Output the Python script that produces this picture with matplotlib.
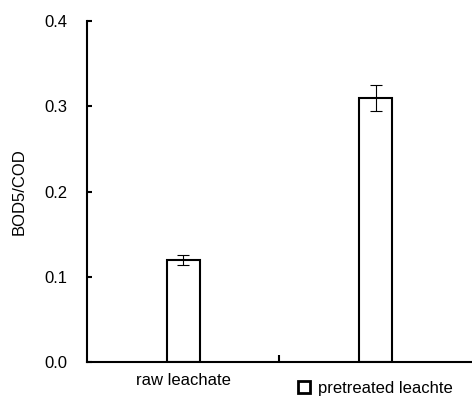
import matplotlib
matplotlib.use("Agg")
import matplotlib.pyplot as plt

plt.rcParams['font.family'] = ['Liberation Sans', 'DejaVu Sans']

categories = ["raw leachate", "pretreated leachte"]
ratio = [0.12, 0.31]
ratio_err = [0.006, 0.015]
yticks = [0.0, 0.1, 0.2, 0.3, 0.4]

fig = plt.figure(figsize=(4.72, 4.0), dpi=100)
ax = fig.add_axes([0.1843, 0.095, 0.8157, 0.8525])

pos = [0.5, 1.5]
bars = ax.bar(pos, ratio, width=0.17, color="white", edgecolor="black",
              linewidth=1.5, zorder=2)
ax.errorbar(pos, ratio, yerr=ratio_err, fmt="none", ecolor="black",
            elinewidth=0.8, capsize=4, capthick=0.8, zorder=3)

ax.set_xlim(0, 2)
ax.set_ylim(0, 0.4)
ax.set_yticks(yticks)
ax.set_yticklabels(["%.1f" % v for v in yticks])

ax.set_xticks([1])
ax.set_xticklabels([""])
ax.set_xticks([0.5], minor=True)
ax.set_xticklabels([categories[0]], minor=True)
ax.tick_params(axis="x", which="major", direction="in", length=5, width=1.5)
ax.tick_params(axis="x", which="minor", length=0, pad=8, labelsize=12)
ax.tick_params(axis="y", direction="in", length=3.5, width=1.5, pad=14,
               labelsize=12)

for side in ["top", "right"]:
    ax.spines[side].set_visible(False)
for side in ["left", "bottom"]:
    ax.spines[side].set_linewidth(1.5)
ax.spines["left"].set_bounds(0, 0.4)

ax.set_ylabel("BOD5/COD", fontsize=12)
ax.yaxis.set_label_coords(-0.156, 0.5)

leg = ax.legend([bars[1]], [categories[1]], loc="center left",
                bbox_to_anchor=(298 / 472, 1 - 388 / 400),
                bbox_transform=fig.transFigure, frameon=False,
                handlelength=0.7, handleheight=0.7, handletextpad=0.5,
                borderpad=0, borderaxespad=0, fontsize=12)
leg.get_patches()[0].set_linewidth(2)

fig.savefig("out.png", dpi=100)
